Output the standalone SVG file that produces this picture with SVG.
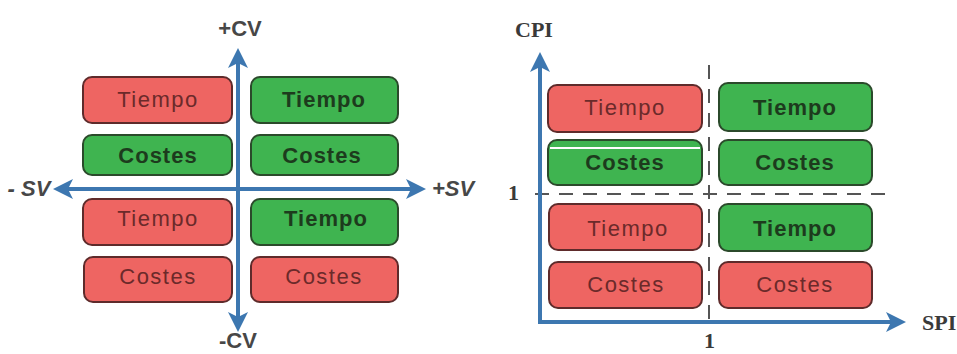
<svg xmlns="http://www.w3.org/2000/svg" width="957" height="354" viewBox="0 0 957 354">
<defs>
<marker id="ah" viewBox="0 0 10 10" refX="8" refY="5" markerWidth="5.5" markerHeight="5" orient="auto-start-reverse" markerUnits="strokeWidth">
<path d="M0,0 L10,5 L0,10 L2.5,5 Z" fill="#3d77b0"/>
</marker>
<style>
.r{fill:#ee6562;stroke:#5e2b2b;stroke-width:2}
.g{fill:#3fb450;stroke:#2b4a2b;stroke-width:2}
.rt{font-family:"Liberation Sans",Arial,sans-serif;font-size:22px;fill:#6b2a2a;text-anchor:middle;letter-spacing:1.5px}
.gt{font-family:"Liberation Sans",Arial,sans-serif;font-size:22px;font-weight:bold;fill:#1d3b1d;text-anchor:middle;letter-spacing:1px}
.ax{stroke:#3d77b0;stroke-width:4;fill:none}
.lb{font-family:"Liberation Sans",Arial,sans-serif;font-size:22px;font-weight:bold;fill:#474747;text-anchor:middle}
.sl{font-family:"Liberation Serif","Times New Roman",serif;font-size:22px;font-weight:bold;fill:#3a3a3a}
.ds{stroke:#555;stroke-width:2;stroke-dasharray:14 10;fill:none}
</style>
</defs>
<rect width="957" height="354" fill="#ffffff"/>

<g id="left-panel">
<g id="l-tl-tiempo"><rect class="r" x="83" y="77" width="149" height="46" rx="9"/><text class="rt" x="158" y="107">Tiempo</text></g>
<g id="l-tl-costes"><rect class="g" x="83" y="135" width="149" height="40" rx="9"/><text class="gt" x="158" y="163">Costes</text></g>
<g id="l-bl-tiempo"><rect class="r" x="83" y="199" width="149" height="46" rx="9"/><text class="rt" x="158" y="226">Tiempo</text></g>
<g id="l-bl-costes"><rect class="r" x="84" y="257" width="148" height="45" rx="9"/><text class="rt" x="158" y="284">Costes</text></g>
<g id="l-tr-tiempo"><rect class="g" x="251" y="77" width="147" height="46" rx="9"/><text class="gt" x="324" y="107">Tiempo</text></g>
<g id="l-tr-costes"><rect class="g" x="251" y="135" width="147" height="40" rx="9"/><text class="gt" x="322" y="163">Costes</text></g>
<g id="l-br-tiempo"><rect class="g" x="251" y="199" width="147" height="46" rx="9"/><text class="gt" x="326" y="226">Tiempo</text></g>
<g id="l-br-costes"><rect class="r" x="251" y="257" width="147" height="45" rx="9"/><text class="rt" x="324" y="284">Costes</text></g>
</g>

<g id="right-panel">
<g id="r-tl-tiempo"><rect class="r" x="548" y="85" width="154" height="47" rx="9"/><text class="rt" x="625" y="115">Tiempo</text></g>
<g id="r-tl-costes"><rect class="g" x="548" y="140" width="154" height="45" rx="9"/><line x1="550" y1="148" x2="700" y2="148" stroke="#ffffff" stroke-width="2"/><text class="gt" x="625" y="170">Costes</text></g>
<g id="r-bl-tiempo"><rect class="r" x="549" y="204" width="153" height="46" rx="9"/><text class="rt" x="628" y="236">Tiempo</text></g>
<g id="r-bl-costes"><rect class="r" x="549" y="262" width="153" height="46" rx="9"/><text class="rt" x="626" y="292">Costes</text></g>
<g id="r-tr-tiempo"><rect class="g" x="719" y="83" width="153" height="48" rx="9"/><text class="gt" x="795" y="115">Tiempo</text></g>
<g id="r-tr-costes"><rect class="g" x="719" y="140" width="153" height="45" rx="9"/><text class="gt" x="795" y="170">Costes</text></g>
<g id="r-br-tiempo"><rect class="g" x="719" y="204" width="153" height="47" rx="9"/><text class="gt" x="795" y="236">Tiempo</text></g>
<g id="r-br-costes"><rect class="r" x="719" y="262" width="153" height="46" rx="9"/><text class="rt" x="795" y="292">Costes</text></g>
</g>

<g id="connectors">
<line class="ax" x1="238" y1="52" x2="238" y2="328" marker-start="url(#ah)" marker-end="url(#ah)"/>
<line class="ax" x1="57" y1="189" x2="422" y2="189" marker-start="url(#ah)" marker-end="url(#ah)"/>
<line class="ds" x1="709" y1="65" x2="709" y2="322"/>
<line class="ds" x1="535" y1="194" x2="888" y2="194"/>
<polyline class="ax" points="540,56 540,322 902,322" marker-start="url(#ah)" marker-end="url(#ah)"/>
</g>

<g id="labels">
<text class="lb" x="240" y="36">+CV</text>
<text class="lb" x="238" y="348" font-size="21">-CV</text>
<text class="lb" x="29" y="196" font-style="italic">- SV</text>
<text class="lb" x="453" y="196" font-style="italic">+SV</text>
<text class="sl" x="515" y="37">CPI</text>
<text class="sl" x="922" y="330">SPI</text>
<text class="sl" x="508" y="200">1</text>
<text class="sl" x="704" y="348">1</text>
</g>
</svg>
